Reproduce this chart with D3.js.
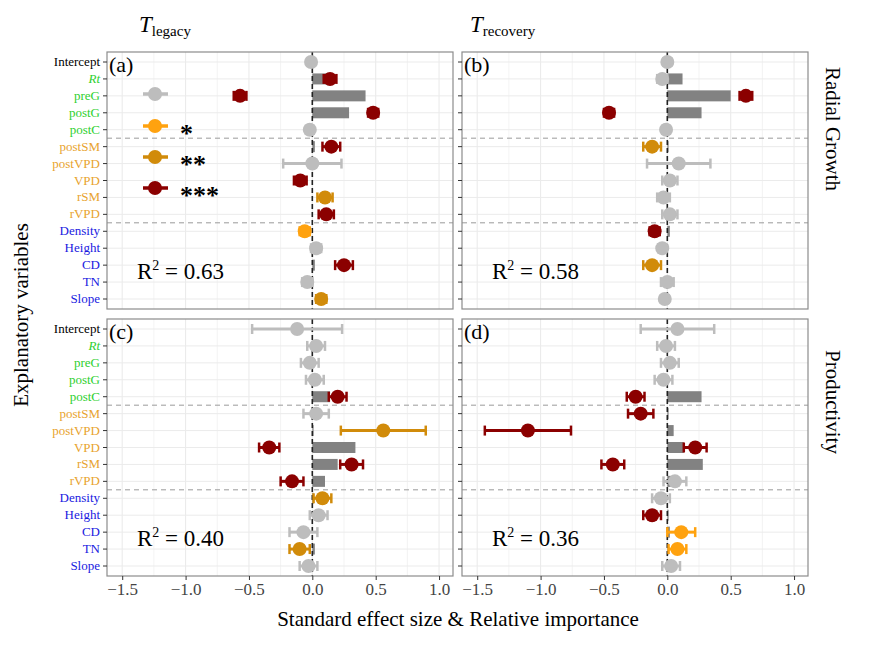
<!DOCTYPE html>
<html><head><meta charset="utf-8">
<script src="https://cdn.jsdelivr.net/npm/d3@7"></script>
<style>body{margin:0;background:#fff}svg text{font-family:"Liberation Serif","Times New Roman",Tinos,"DejaVu Serif",serif}</style>
</head><body><svg id="chart" width="876" height="656" font-family="Liberation Serif, Times New Roman, DejaVu Serif, serif"></svg>
<script>
// explanatory variables, top to bottom
var vars = ["Intercept","Rt","preG","postG","postC","postSM","postVPD","VPD","rSM","rVPD","Density","Height","CD","TN","Slope"];
var varColor = ["#000","#2fd02f","#2fd02f","#2fd02f","#2fd02f","#e8a32e","#e8a32e","#e8a32e","#e8a32e","#e8a32e","#1a1adf","#1a1adf","#1a1adf","#1a1adf","#1a1adf"];

// panel (a) Tlegacy / radial growth
var aEst = [-0.01,0.14,-0.57,0.48,-0.02,0.15,0.0,-0.095,0.10,0.11,-0.06,0.03,0.25,-0.04,0.07];
var aErr = [0.03,0.05,0.05,0.04,0.03,0.07,0.23,0.05,0.06,0.06,0.04,0.04,0.07,0.04,0.04];
var aSig = [0,3,3,3,0,3,0,3,2,3,1,0,3,0,2];
var aImp = [0,0.12,0.42,0.29,0,0.02,0,0,0,0,0,0,0.02,0,0];
// panel (b) Trecovery / radial growth
var bEst = [0.0,-0.04,0.62,-0.46,-0.01,-0.12,0.09,0.02,-0.03,0.02,-0.10,-0.04,-0.12,0.0,-0.02];
var bErr = [0.03,0.04,0.05,0.04,0.03,0.07,0.25,0.06,0.05,0.06,0.04,0.03,0.07,0.05,0.03];
var bSig = [0,0,3,3,0,2,0,0,0,0,3,0,2,0,0];
var bImp = [0,0.12,0.50,0.27,0,0.01,0,0,0,0,0.02,0,0,0,0];
// panel (c) Tlegacy / productivity
var cEst = [-0.12,0.03,-0.02,0.02,0.20,0.03,0.56,-0.34,0.31,-0.16,0.08,0.05,-0.07,-0.10,-0.03];
var cErr = [0.355,0.07,0.07,0.07,0.07,0.10,0.335,0.08,0.09,0.09,0.07,0.07,0.11,0.08,0.07];
var cSig = [0,0,0,0,3,0,2,3,3,3,2,0,0,2,0];
var cImp = [0,0,0,0,0.14,0,0.01,0.34,0.20,0.10,0.01,0,0,0.02,0];
// panel (d) Trecovery / productivity
var dEst = [0.08,-0.01,0.02,-0.03,-0.25,-0.21,-1.10,0.22,-0.43,0.06,-0.05,-0.12,0.11,0.08,0.03];
var dErr = [0.29,0.07,0.07,0.07,0.07,0.10,0.34,0.09,0.09,0.09,0.07,0.07,0.11,0.07,0.07];
var dSig = [0,0,0,0,3,3,3,3,3,0,0,3,1,1,0];
var dImp = [0,0,0,0,0.27,0.01,0.05,0.13,0.28,0.08,0,0.01,0.02,0.01,0];

var r2 = ["0.63","0.58","0.40","0.36"];
var xTicks = [-1.5,-1.0,-0.5,0.0,0.5,1.0];
var sigColor = ["#bdbdbd","#ffa20f","#d18b0a","#8b0000"];
var SERIF = "Liberation Serif, Times New Roman, DejaVu Serif, serif";

var svg = d3.select("#chart");
var panels = [
  {id:"(a)", x0:107, y0:52, est:aEst, err:aErr, sig:aSig, imp:aImp},
  {id:"(b)", x0:462, y0:52, est:bEst, err:bErr, sig:bSig, imp:bImp},
  {id:"(c)", x0:107, y0:319, est:cEst, err:cErr, sig:cSig, imp:cImp},
  {id:"(d)", x0:462, y0:319, est:dEst, err:dErr, sig:dSig, imp:dImp}
];
var W = 346, H = 257;

panels.forEach(function(p, k) {
  var x = d3.scaleLinear().domain([-1.62, 1.11]).range([p.x0, p.x0 + W]);
  var y = d3.scalePoint().domain(vars).range([p.y0 + 10, p.y0 + H - 10]);
  var g = svg.append("g");
  g.append("rect").attr("x", p.x0).attr("y", p.y0).attr("width", W).attr("height", H).attr("fill", "#fff");
  d3.range(-1.5, 1.01, 0.25).forEach(function(v) {
    g.append("line").attr("x1", x(v)).attr("x2", x(v)).attr("y1", p.y0).attr("y2", p.y0 + H)
      .attr("stroke", "#ebebeb").attr("stroke-width", Math.abs(v * 2 % 1) < 1e-6 ? 1.1 : 0.6);
  });
  vars.forEach(function(v) {
    g.append("line").attr("x1", p.x0).attr("x2", p.x0 + W).attr("y1", y(v)).attr("y2", y(v)).attr("stroke", "#ebebeb");
  });
  [4.5, 9.5].forEach(function(i) {
    var yy = y(vars[0]) + i * y.step();
    g.append("line").attr("x1", p.x0).attr("x2", p.x0 + W).attr("y1", yy).attr("y2", yy)
      .attr("stroke", "#9a9a9a").attr("stroke-dasharray", "5,4");
  });
  // relative importance bars
  vars.forEach(function(v, i) {
    if (p.imp[i] > 0) g.append("rect").attr("x", x(0)).attr("y", y(v) - 5.5)
      .attr("width", x(p.imp[i]) - x(0)).attr("height", 11).attr("fill", "#828282");
  });
  g.append("line").attr("x1", x(0)).attr("x2", x(0)).attr("y1", p.y0).attr("y2", p.y0 + H)
    .attr("stroke", "#222").attr("stroke-width", 1.6).attr("stroke-dasharray", "5,3");
  // estimates with error bars
  vars.forEach(function(v, i) {
    var c = sigColor[p.sig[i]], yy = y(v), lo = x(p.est[i] - p.err[i]), hi = x(p.est[i] + p.err[i]);
    g.append("line").attr("x1", lo).attr("x2", hi).attr("y1", yy).attr("y2", yy).attr("stroke", c).attr("stroke-width", 3);
    [lo, hi].forEach(function(e) {
      g.append("line").attr("x1", e).attr("x2", e).attr("y1", yy - 5).attr("y2", yy + 5).attr("stroke", c).attr("stroke-width", 2.5);
    });
    g.append("circle").attr("cx", x(p.est[i])).attr("cy", yy).attr("r", 7).attr("fill", c);
  });
  g.append("rect").attr("x", p.x0).attr("y", p.y0).attr("width", W).attr("height", H)
    .attr("fill", "none").attr("stroke", "#8c8c8c").attr("stroke-width", 1.2);
  g.append("text").attr("x", p.x0 + 2).attr("y", p.y0 + 20).attr("font-size", 22).text(p.id);
  var rt = g.append("text").attr("x", p.x0 + 30).attr("y", p.y0 + 227).attr("font-size", 23);
  rt.append("tspan").text("R");
  rt.append("tspan").attr("dy", -9).attr("font-size", 14).text("2");
  rt.append("tspan").attr("dy", 9).text(" = " + r2[k]);

  vars.forEach(function(v, i) {
    g.append("line").attr("x1", p.x0 - 4).attr("x2", p.x0).attr("y1", y(v)).attr("y2", y(v)).attr("stroke", "#333");
    if (k % 2 === 0)
      g.append("text").attr("x", p.x0 - 7).attr("y", y(v) + 4).attr("text-anchor", "end")
        .attr("font-size", 13).attr("fill", varColor[i]).attr("font-style", v === "Rt" ? "italic" : null).text(v);
  });
  if (k >= 2) {
    var ax = g.append("g").attr("transform", "translate(0," + (p.y0 + H) + ")")
      .call(d3.axisBottom(x).tickValues(xTicks).tickSize(4).tickFormat(d3.format(".1f")));
    ax.select(".domain").remove();
    ax.selectAll("text").attr("font-size", 17).attr("fill", "#444").attr("font-family", SERIF);
    ax.selectAll("line").attr("stroke", "#333");
  }
  if (k === 0) {
    var ly = [94, 126, 157, 188], lab = ["", "*", "**", "***"];
    ly.forEach(function(yy, j) {
      g.append("line").attr("x1", 143).attr("x2", 168).attr("y1", yy).attr("y2", yy).attr("stroke", sigColor[j]).attr("stroke-width", 3.5);
      g.append("circle").attr("cx", 155).attr("cy", yy).attr("r", 7).attr("fill", sigColor[j]);
      g.append("text").attr("x", 180).attr("y", yy + 16).attr("font-size", 26)
        .attr("font-family", "Liberation Sans, Arial, sans-serif").attr("font-weight", "bold").text(lab[j]);
    });
  }
});

function title(xp, sub) {
  var t = svg.append("text").attr("x", xp).attr("y", 32).attr("font-size", 23).attr("font-style", "italic");
  t.append("tspan").text("T");
  t.append("tspan").attr("dy", 4).attr("font-size", 15).attr("font-style", "normal").text(sub);
}
title(139, "legacy");
title(470, "recovery");
svg.append("text").attr("transform", "translate(826,129) rotate(90)").attr("text-anchor", "middle").attr("font-size", 21).text("Radial Growth");
svg.append("text").attr("transform", "translate(826,402) rotate(90)").attr("text-anchor", "middle").attr("font-size", 21).text("Productivity");
svg.append("text").attr("transform", "translate(28,315) rotate(-90)").attr("text-anchor", "middle").attr("font-size", 21).text("Explanatory variables");
svg.append("text").attr("x", 458).attr("y", 626).attr("text-anchor", "middle").attr("font-size", 21).text("Standard effect size & Relative importance");
</script></body></html>
